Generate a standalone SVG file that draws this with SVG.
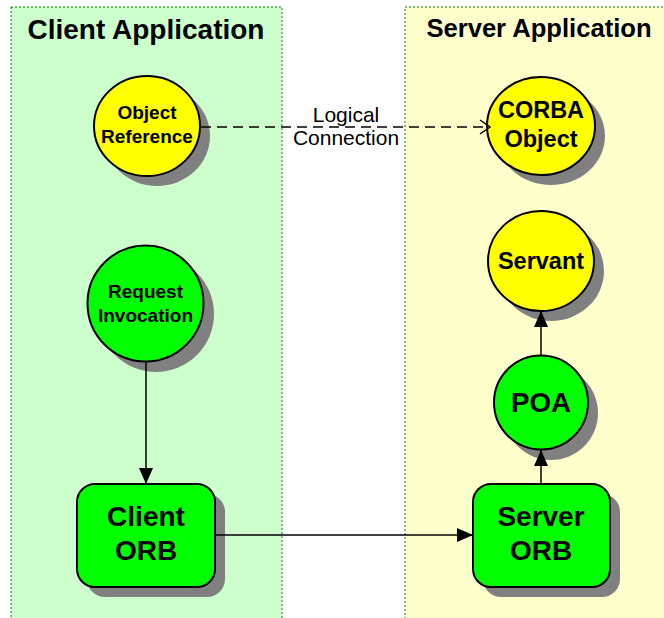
<svg xmlns="http://www.w3.org/2000/svg" width="664" height="618" viewBox="0 0 664 618">
  <style>
    .panel { stroke: #008000; stroke-width: 1; stroke-dasharray: 2 2; }
    .shadow { fill: #808080; }
    .node { stroke: #000; stroke-width: 2; }
    .yellow { fill: #FFFF00; }
    .green { fill: #00FF00; }
    .lbl { font-family: "Liberation Sans", Arial, sans-serif; font-weight: bold; text-anchor: middle; fill: #000; }
    .plain { font-family: "Liberation Sans", Arial, sans-serif; text-anchor: middle; fill: #000; }
    .edge { stroke: #000; stroke-width: 1.5; fill: none; }
  </style>
  <defs>
    <marker id="solid" markerUnits="userSpaceOnUse" markerWidth="16" markerHeight="14" refX="16" refY="7" orient="auto">
      <path d="M0,0 L16,7 L0,14 Z" fill="#000"/>
    </marker>
    <marker id="open" markerUnits="userSpaceOnUse" markerWidth="12" markerHeight="16" refX="11" refY="8" orient="auto">
      <path d="M1,1 L11,8 L1,15" fill="none" stroke="#000" stroke-width="1.5"/>
    </marker>
  </defs>

  <rect width="664" height="618" fill="#FFFFFF"/>

  <!-- application panels -->
  <g id="client-app">
    <rect class="panel" x="11" y="7" width="271" height="620" fill="#CCFFCC"/>
    <text class="lbl" x="146" y="39" font-size="28">Client Application</text>
  </g>
  <g id="server-app">
    <rect class="panel" x="405" y="7" width="270" height="620" fill="#FFFFCC"/>
    <text class="lbl" x="539" y="37" font-size="25.6">Server Application</text>
  </g>

  <!-- nodes -->
  <g id="object-reference">
    <ellipse class="shadow" cx="157" cy="136" rx="53" ry="50"/>
    <ellipse class="node yellow" cx="147" cy="126" rx="53" ry="50"/>
    <text class="lbl" x="147" y="119" font-size="19">Object</text>
    <text class="lbl" x="147" y="143" font-size="19">Reference</text>
  </g>

  <g id="corba-object">
    <ellipse class="shadow" cx="551" cy="136" rx="54" ry="49"/>
    <ellipse class="node yellow" cx="541" cy="126" rx="54" ry="49"/>
    <text class="lbl" x="541" y="118" font-size="23.5">CORBA</text>
    <text class="lbl" x="541" y="147" font-size="23.5">Object</text>
  </g>

  <g id="request-invocation">
    <circle class="shadow" cx="156" cy="314" r="58"/>
    <circle class="node green" cx="145.5" cy="303.5" r="58"/>
    <text class="lbl" x="145.5" y="298" font-size="19">Request</text>
    <text class="lbl" x="145.5" y="322" font-size="19">Invocation</text>
  </g>

  <g id="servant">
    <ellipse class="shadow" cx="551" cy="271" rx="53" ry="50"/>
    <ellipse class="node yellow" cx="541" cy="261" rx="53" ry="50"/>
    <text class="lbl" x="541" y="269" font-size="23.5">Servant</text>
  </g>

  <g id="poa">
    <circle class="shadow" cx="551" cy="413" r="47"/>
    <circle class="node green" cx="541" cy="402.5" r="47"/>
    <text class="lbl" x="541" y="412" font-size="27.7">POA</text>
  </g>

  <g id="client-orb">
    <rect class="shadow" x="87" y="494" width="138" height="103" rx="18"/>
    <rect class="node green" x="77" y="484" width="138" height="103" rx="18"/>
    <text class="lbl" x="146" y="526" font-size="28">Client</text>
    <text class="lbl" x="146" y="560" font-size="28">ORB</text>
  </g>

  <g id="server-orb">
    <rect class="shadow" x="483" y="494" width="137" height="103" rx="18"/>
    <rect class="node green" x="473" y="484" width="137" height="103" rx="18"/>
    <text class="lbl" x="541" y="526" font-size="28">Server</text>
    <text class="lbl" x="541" y="560" font-size="28">ORB</text>
  </g>

  <!-- connectors, drawn over the node shadows -->
  <g id="connectors">
    <line class="edge" x1="201" y1="127" x2="490" y2="127" stroke-dasharray="10 6" marker-end="url(#open)"/>
    <line class="edge" x1="146" y1="362" x2="146" y2="484" marker-end="url(#solid)"/>
    <line class="edge" x1="215" y1="535" x2="473" y2="535" marker-end="url(#solid)"/>
    <line class="edge" x1="541" y1="485" x2="541" y2="450" marker-end="url(#solid)"/>
    <line class="edge" x1="541" y1="355" x2="541" y2="311" marker-end="url(#solid)"/>
    <text class="plain" x="346" y="122" font-size="21">Logical</text>
    <text class="plain" x="346" y="145" font-size="21">Connection</text>
  </g>
</svg>
